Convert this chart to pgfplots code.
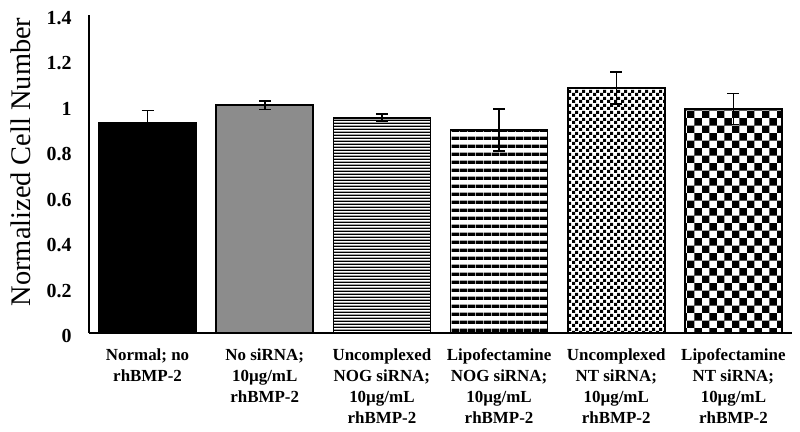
\documentclass[border=0pt]{standalone}
\usepackage{fontspec}
\setmainfont{Liberation Serif}
\usepackage{pgfplots}
\pgfplotsset{compat=1.18}
\usetikzlibrary{patterns}
\pgfdeclarepatternformonly{hthin}{\pgfpointorigin}{\pgfqpoint{3pt}{3pt}}{\pgfqpoint{3pt}{3pt}}{%
  \pgfpathrectangle{\pgfpointorigin}{\pgfqpoint{3pt}{1.5pt}}\pgfusepath{fill}}
\pgfdeclarepatternformonly{hthick}{\pgfpointorigin}{\pgfqpoint{7.7pt}{7.7pt}}{\pgfqpoint{7.7pt}{7.7pt}}{%
  \pgfpathrectangle{\pgfpointorigin}{\pgfqpoint{7.7pt}{3.6pt}}\pgfusepath{fill}}
\pgfdeclarepatternformonly{checksmall}{\pgfpointorigin}{\pgfqpoint{6.6pt}{6.6pt}}{\pgfqpoint{6.6pt}{6.6pt}}{%
  \pgfpathrectangle{\pgfpointorigin}{\pgfqpoint{3.3pt}{3.3pt}}%
  \pgfpathrectangle{\pgfqpoint{3.3pt}{3.3pt}}{\pgfqpoint{3.3pt}{3.3pt}}\pgfusepath{fill}}
\pgfdeclarepatternformonly{checkbig}{\pgfpointorigin}{\pgfqpoint{15pt}{15pt}}{\pgfqpoint{15pt}{15pt}}{%
  \pgfpathrectangle{\pgfpointorigin}{\pgfqpoint{7.5pt}{7.5pt}}%
  \pgfpathrectangle{\pgfqpoint{7.5pt}{7.5pt}}{\pgfqpoint{7.5pt}{7.5pt}}\pgfusepath{fill}}
\definecolor{bargray}{RGB}{140,140,140}
\begin{document}
\begin{tikzpicture}
\begin{axis}[
  scale only axis,
  width=703bp, height=318bp,
  xmin=-0.5, xmax=5.5, ymin=0, ymax=1.4,
  axis lines*=left,
  axis line style={line width=1.3bp, black},
  ybar, bar width=97bp,
  xtick={0,1,2,3,4,5},
  xticklabels={{Normal; no\\rhBMP-2},{No siRNA;\\10µg/mL\\rhBMP-2},{Uncomplexed\\NOG siRNA;\\10µg/mL\\rhBMP-2},{Lipofectamine\\NOG siRNA;\\10µg/mL\\rhBMP-2},{Uncomplexed\\NT siRNA;\\10µg/mL\\rhBMP-2},{Lipofectamine\\NT siRNA;\\10µg/mL\\rhBMP-2}},
  ytick={0,0.2,0.4,0.6,0.8,1,1.2,1.4},
  yticklabels={0,0.2,0.4,0.6,0.8,1,1.2,1.4},
  xtick style={draw=none}, ytick style={draw=none},
  xticklabel style={align=center, anchor=north, yshift=-8bp, font=\bfseries\fontsize{17}{21}\selectfont},
  yticklabel style={font=\bfseries\fontsize{20}{20}\selectfont, xshift=-14bp, yshift=-3bp},
  ylabel={Normalized Cell Number},
  ylabel style={at={(axis description cs:-0.097,0.538)}, anchor=center, font=\fontsize{28.5}{28.5}\selectfont},
  error bars/y dir=both, error bars/y explicit,
  error bars/error bar style={line width=1.5bp, black},
  error bars/error mark options={rotate=90, mark size=6bp, line width=1.5bp, black},
  every axis plot/.append style={bar shift=0pt, draw=black, line width=1.8bp},
  clip=false,
]
\addplot[fill=black] coordinates {(0,0.926) +- (0,0.053)};
\addplot[fill=bargray] coordinates {(1,1.003) +- (0,0.018)};
\addplot[pattern=hthin, pattern color=black] coordinates {(2,0.948) +- (0,0.017)};
\addplot[pattern=hthick, pattern color=black] coordinates {(3,0.894) +- (0,0.093)};
\addplot[pattern=checksmall, pattern color=black] coordinates {(4,1.078) +- (0,0.070)};
\addplot[pattern=checkbig, pattern color=black] coordinates {(5,0.987) +- (0,0.068)};
\end{axis}
\path ([xshift=-89bp,yshift=-99bp]current axis.south west) rectangle ([xshift=8bp,yshift=15bp]current axis.north east);
\end{tikzpicture}
\end{document}
